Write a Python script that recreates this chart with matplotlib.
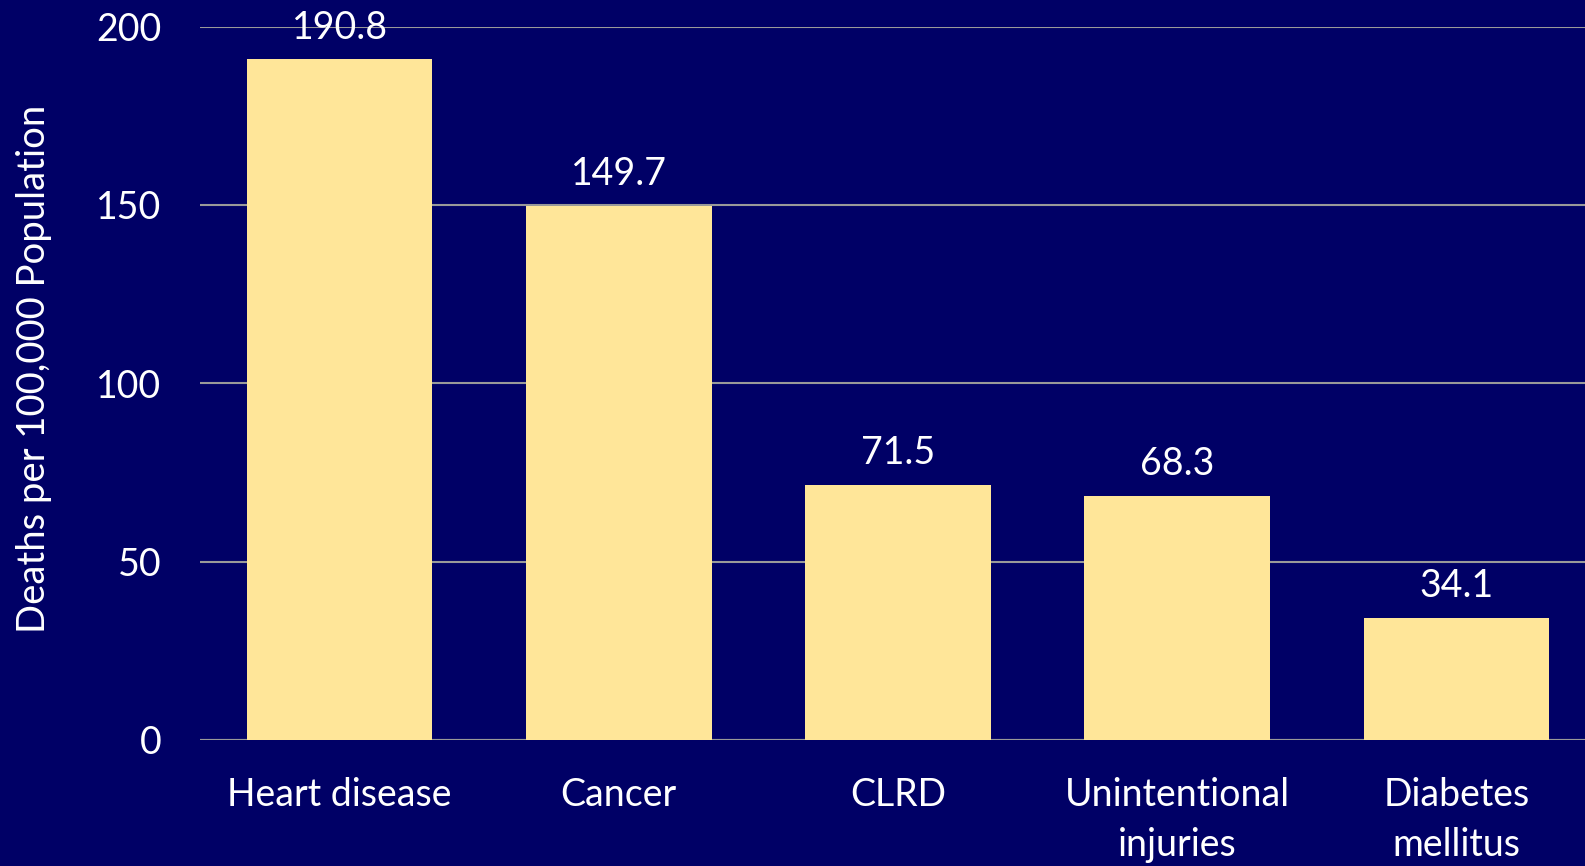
import matplotlib.pyplot as plt

causes = ['Heart disease', 'Cancer', 'CLRD', 'Unintentional\ninjuries', 'Diabetes\nmellitus']
rates = [190.8, 149.7, 71.5, 68.3, 34.1]
yticks = [0, 50, 100, 150, 200]

bg = '#000066'
plt.rcParams['font.family'] = ['Lato', 'DejaVu Sans']

fig = plt.figure(figsize=(15.85, 8.66), dpi=100, facecolor=bg)
ax = fig.add_axes([0.1262, 0.1455, 0.8738, 0.8238], facecolor=bg)

x = range(len(causes))
bars = ax.bar(x, rates, width=0.665, color='#FFE699', zorder=2)

for b, v in zip(bars, rates):
    ax.annotate(f'{v:.1f}', (b.get_x() + b.get_width() / 2, v),
                xytext=(0, 10), textcoords='offset points',
                ha='center', va='bottom', color='white', fontsize=27, zorder=3)

ax.set_ylim(0, 200)
ax.set_xlim(-0.5, 4.46)
ax.set_yticks(yticks)
ax.set_xticks(list(x))
ax.set_xticklabels(causes, linespacing=1.45)
ax.tick_params(axis='both', length=0, labelsize=27, colors='white')
ax.tick_params(axis='x', pad=27)
ax.tick_params(axis='y', pad=28)
ax.yaxis.grid(True, color='#999999', linewidth=1.5, zorder=0)
for s in ax.spines.values():
    s.set_visible(False)
ax.axhline(0, color='#999999', linewidth=1.5, zorder=1)

ax.set_ylabel('Deaths per 100,000 Population', color='white', fontsize=27.5)
ax.yaxis.set_label_coords(-0.107, 0.52)

fig.savefig('out.png', dpi=100, facecolor=bg)
